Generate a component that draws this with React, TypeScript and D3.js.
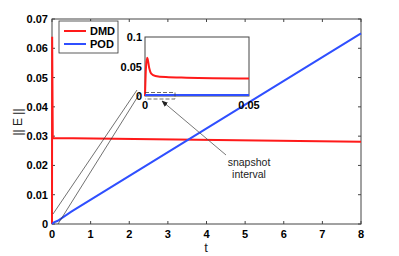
import React, { useEffect, useRef } from "react";
import * as d3 from "d3";

// main plot data (t, ||E||)
const dmdT = [0, 0.004, 0.02, 8];
const dmdE = [0, 0.0639, 0.0294, 0.0281];
const podT = [0, 0.05, 0.15, 0.5, 8];
const podE = [0, 0.0006, 0.0011, 0.0042, 0.0651];

// inset data
const insetDmdT = [0, 0.0005, 0.0011, 0.002, 0.003, 0.005, 0.01, 0.02, 0.05];
const insetDmdE = [0, 0.05, 0.065, 0.048, 0.038, 0.034, 0.032, 0.031, 0.0298];
const insetPodT = [0, 0.05];
const insetPodE = [0.0018, 0.0018];

const xTicks = [0, 1, 2, 3, 4, 5, 6, 7, 8];
const yTicks = [0, 0.01, 0.02, 0.03, 0.04, 0.05, 0.06, 0.07];
const insetXTicks = [0, 0.05];
const insetYTicks = [0, 0.05, 0.1];

const W = 399;
const H = 256;

const App: React.FC = () => {
  const ref = useRef<SVGSVGElement>(null);

  useEffect(() => {
    if (!ref.current) return;
    const svg = d3.select(ref.current);
    svg.selectAll("*").remove();

    const font = "'Liberation Sans', Arial, sans-serif";
    const axisColor = "#444";

    const x = d3.scaleLinear().domain([0, 8]).range([52, 361]);
    const y = d3.scaleLinear().domain([0, 0.07]).range([224, 19]);

    const g = svg.append("g");

    // axes box
    g.append("rect")
      .attr("x", 52).attr("y", 19)
      .attr("width", 309).attr("height", 205)
      .attr("fill", "none").attr("stroke", axisColor).attr("stroke-width", 1);

    const tickLen = 3;
    xTicks.forEach((t) => {
      g.append("line").attr("x1", x(t)).attr("x2", x(t)).attr("y1", 224).attr("y2", 224 - tickLen).attr("stroke", axisColor);
      g.append("line").attr("x1", x(t)).attr("x2", x(t)).attr("y1", 19).attr("y2", 19 + tickLen).attr("stroke", axisColor);
      g.append("text").attr("x", x(t)).attr("y", 238)
        .attr("text-anchor", "middle").attr("font-family", font).attr("font-weight", "bold")
        .attr("font-size", 11).text(d3.format("d")(t));
    });
    yTicks.forEach((v) => {
      g.append("line").attr("x1", 52).attr("x2", 52 + tickLen).attr("y1", y(v)).attr("y2", y(v)).attr("stroke", axisColor);
      g.append("line").attr("x1", 361).attr("x2", 361 - tickLen).attr("y1", y(v)).attr("y2", y(v)).attr("stroke", axisColor);
      g.append("text").attr("x", 48).attr("y", y(v) + 4)
        .attr("text-anchor", "end").attr("font-family", font).attr("font-weight", "bold")
        .attr("font-size", 11).text(v === 0 ? "0" : d3.format(".2f")(v));
    });

    // axis labels
    g.append("text").attr("x", 206).attr("y", 252).attr("text-anchor", "middle")
      .attr("font-family", font).attr("font-size", 13).attr("fill", "#222").text("t");
    g.append("text").attr("transform", "translate(22,122) rotate(-90)").attr("text-anchor", "middle")
      .attr("font-family", font).attr("font-size", 12).attr("fill", "#222").text("|| E ||");

    const line = d3.line<[number, number]>().x((d) => x(d[0])).y((d) => y(d[1]));
    g.append("path").datum(dmdT.map((t, i) => [t, dmdE[i]] as [number, number]))
      .attr("d", line).attr("fill", "none").attr("stroke", "#ff1a1a").attr("stroke-width", 2);
    g.append("path").datum(podT.map((t, i) => [t, podE[i]] as [number, number]))
      .attr("d", line).attr("fill", "none").attr("stroke", "#2f4fff").attr("stroke-width", 2);

    // connector lines to inset
    g.append("line").attr("x1", 53).attr("y1", 214).attr("x2", 137).attr("y2", 90).attr("stroke", "#333").attr("stroke-width", 0.7);
    g.append("line").attr("x1", 58).attr("y1", 224).attr("x2", 140).attr("y2", 93).attr("stroke", "#333").attr("stroke-width", 0.7);

    // inset
    const ix = d3.scaleLinear().domain([0, 0.05]).range([145, 249]);
    const iy = d3.scaleLinear().domain([0, 0.1]).range([96, 37]);
    g.append("rect").attr("x", 145).attr("y", 37).attr("width", 104).attr("height", 59)
      .attr("fill", "white").attr("stroke", axisColor).attr("stroke-width", 1);
    insetXTicks.forEach((t) => {
      g.append("text").attr("x", ix(t)).attr("y", 109).attr("text-anchor", "middle")
        .attr("font-family", font).attr("font-weight", "bold").attr("font-size", 11)
        .text(t === 0 ? "0" : "0.05");
    });
    insetYTicks.forEach((v) => {
      g.append("text").attr("x", 142).attr("y", iy(v) + 4).attr("text-anchor", "end")
        .attr("font-family", font).attr("font-weight", "bold").attr("font-size", 11)
        .text(v === 0 ? "0" : String(v));
    });
    const iline = d3.line<[number, number]>().x((d) => ix(d[0])).y((d) => iy(d[1])).curve(d3.curveMonotoneX);
    g.append("path").datum(insetDmdT.map((t, i) => [t, insetDmdE[i]] as [number, number]))
      .attr("d", iline).attr("fill", "none").attr("stroke", "#ff1a1a").attr("stroke-width", 2);
    g.append("path").datum(insetPodT.map((t, i) => [t, insetPodE[i]] as [number, number]))
      .attr("d", iline).attr("fill", "none").attr("stroke", "#2f4fff").attr("stroke-width", 2);

    // dashed snapshot box
    g.append("path").attr("d", "M145,92.5 H175 V99 H145")
      .attr("fill", "none").attr("stroke", "#444").attr("stroke-width", 0.8).attr("stroke-dasharray", "4,2");

    // arrow
    const defs = svg.append("defs");
    defs.append("marker").attr("id", "arr").attr("viewBox", "0 0 10 10").attr("refX", 9).attr("refY", 5)
      .attr("markerWidth", 8).attr("markerHeight", 8).attr("orient", "auto")
      .append("path").attr("d", "M0,1 L10,5 L0,9 z").attr("fill", "#222");
    g.append("line").attr("x1", 226).attr("y1", 155).attr("x2", 162).attr("y2", 101)
      .attr("stroke", "#555").attr("stroke-width", 0.8).attr("marker-end", "url(#arr)");
    g.append("text").attr("x", 249).attr("y", 166).attr("text-anchor", "middle")
      .attr("font-family", font).attr("font-size", 10.5).attr("fill", "#222").text("snapshot");
    g.append("text").attr("x", 249).attr("y", 178).attr("text-anchor", "middle")
      .attr("font-family", font).attr("font-size", 10.5).attr("fill", "#222").text("interval");

    // legend
    g.append("rect").attr("x", 59).attr("y", 21).attr("width", 59).attr("height", 32)
      .attr("fill", "white").attr("stroke", "#333").attr("stroke-width", 0.8);
    [["DMD", "#ff1a1a"], ["POD", "#2f4fff"]].forEach(([name, c], i) => {
      const ly = 31 + i * 13;
      g.append("line").attr("x1", 64).attr("x2", 86).attr("y1", ly).attr("y2", ly).attr("stroke", c).attr("stroke-width", 2);
      g.append("text").attr("x", 90).attr("y", ly + 4).attr("font-family", font).attr("font-weight", "bold")
        .attr("font-size", 11).text(name);
    });
  }, []);

  return <svg ref={ref} width={W} height={H} style={{ position: "absolute", left: 0, top: 0, background: "white" }} />;
};

export default App;
